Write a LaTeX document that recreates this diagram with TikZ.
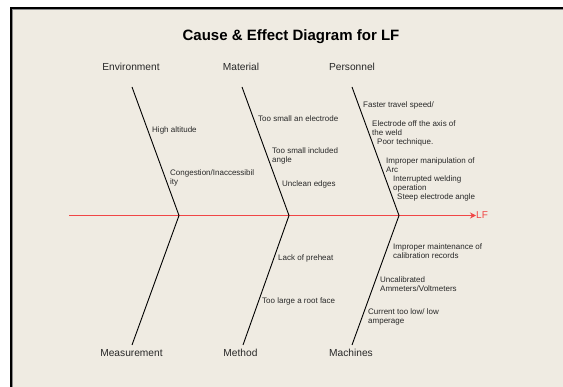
\documentclass[tikz,border=0pt]{standalone}
\usepackage{fontspec}
\setmainfont{Liberation Sans}
\usetikzlibrary{arrows.meta}
\definecolor{bg}{RGB}{239,235,226}
\definecolor{txt}{RGB}{40,40,40}
\definecolor{spinered}{RGB}{240,70,70}
\begin{document}
\begin{tikzpicture}[x=1pt,y=-1pt,
  cause/.style={anchor=west,inner sep=0pt,font=\fontsize{8}{9}\selectfont,text=txt,align=left},
  cat/.style={inner sep=0pt,font=\fontsize{10.2}{12}\selectfont,text=txt},
  bone/.style={line width=0.9pt,black},
  spine/.style={line width=1.3pt,spinered,-{Stealth[length=6pt,width=6pt,inset=2pt]}}]
\useasboundingbox (0,0) rectangle (563,387);
\fill[white] (0,0) rectangle (563,387);
\fill[bg] (10,7) rectangle (563,387);
\fill[black] (10,7) rectangle (563,9.3);
\fill[black] (10,7) rectangle (12.3,387);
\draw[black!45,line width=0.6pt] (12.3,9.7) -- (563,9.7);
\draw[black!45,line width=0.6pt] (12.7,9.7) -- (12.7,387);

% title
\node[inner sep=0pt,font=\fontsize{15}{17}\selectfont\bfseries] (title) at (291,36.5) {Cause \& Effect Diagram for LF};

% categories
\node[cat] (env) at (131,67) {Environment};
\node[cat] (mat) at (241,67) {Material};
\node[cat] (per) at (352,67) {Personnel};
\node[cat] (mea) at (131.5,353) {Measurement};
\node[cat] (met) at (240.5,353) {Method};
\node[cat] (mac) at (351,353) {Machines};

% spine
\coordinate (tail) at (69,215.5);
\node[inner sep=0pt,anchor=west,text=spinered,font=\fontsize{10}{12}\selectfont] (lf) at (476,215.5) {LF};
\draw[spine] (tail) -- (lf.west);

% bones
\coordinate (j1) at (179,215.5);
\coordinate (j2) at (289,215.5);
\coordinate (j3) at (399,215.5);
\coordinate (t1) at (132,87);
\coordinate (t2) at (242,87);
\coordinate (t3) at (352,87);
\coordinate (b1) at (132,345);
\coordinate (b2) at (243,345);
\coordinate (b3) at (352,345);
\draw[bone] (t1) -- (j1) -- (b1);
\draw[bone] (t2) -- (j2) -- (b2);
\draw[bone] (t3) -- (j3) -- (b3);

% causes - environment
\node[cause] (c1) at (152,130) {High altitude};
\node[cause] (c2) at (170,177.5) {Congestion/Inaccessibil\\ity};
% material
\node[cause] (c3) at (258,119) {Too small an electrode};
\node[cause] (c4) at (272,156) {Too small included\\angle};
\node[cause] (c5) at (282,184) {Unclean edges};
% personnel
\node[cause] (c6) at (363,105) {Faster travel speed/};
\node[cause] (c7) at (372,128.5) {Electrode off the axis of\\the weld};
\node[cause] (c8) at (377,142) {Poor technique.};
\node[cause] (c9) at (386,165.5) {Improper manipulation of\\Arc};
\node[cause] (c10) at (393,183.5) {Interrupted welding\\operation};
\node[cause] (c11) at (397,197) {Steep electrode angle};
% method
\node[cause] (c12) at (278,258) {Lack of preheat};
\node[cause] (c13) at (262,301) {Too large a root face};
% machines
\node[cause] (c14) at (393,251.5) {Improper maintenance of\\calibration records};
\node[cause] (c15) at (380,284.5) {Uncalibrated\\Ammeters/Voltmeters};
\node[cause] (c16) at (368,316.5) {Current too low/ low\\amperage};
\end{tikzpicture}
\end{document}
